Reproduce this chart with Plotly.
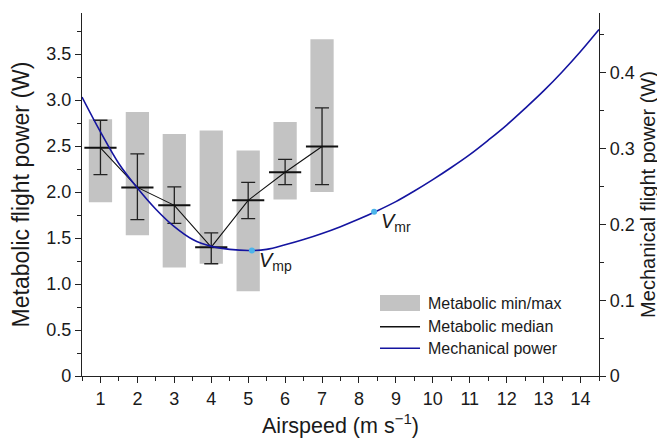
import plotly.graph_objects as go

# ---- data ----
airspeed = [1, 2, 3, 4, 5, 6, 7]
met_min = [1.89, 1.53, 1.18, 1.22, 0.92, 1.92, 2.00]
met_max = [2.79, 2.87, 2.63, 2.67, 2.45, 2.76, 3.66]
met_median = [2.48, 2.05, 1.855, 1.40, 1.91, 2.215, 2.495]
err_upper = [2.78, 2.415, 2.055, 1.555, 2.105, 2.355, 2.915]
err_lower = [2.19, 1.70, 1.66, 1.22, 1.71, 2.08, 2.08]

mech_speed = [0.5, 1.0, 1.5, 2.0, 2.5, 3.0, 3.5, 4.0, 4.5, 5.0, 5.5, 6.0, 6.5,
              7.0, 7.5, 8.0, 8.5, 9.0, 9.5, 10.0, 10.5, 11.0, 11.5, 12.0,
              12.5, 13.0, 13.5, 14.0, 14.5]
mech_power = [0.368, 0.322, 0.280, 0.248, 0.220, 0.197, 0.180, 0.171, 0.167,
              0.1655, 0.167, 0.173, 0.180, 0.188, 0.197, 0.207, 0.218, 0.230,
              0.244, 0.259, 0.275, 0.292, 0.311, 0.331, 0.353, 0.376, 0.401,
              0.428, 0.457]

v_points_x = [5.1, 8.41]
v_points_y = [0.1655, 0.2165]
v_labels = ["<i>V</i><sub>mp</sub>", "<i>V</i><sub>mr</sub>"]

x_ticks = list(range(1, 15))
y_left_ticks = [0, 0.5, 1.0, 1.5, 2.0, 2.5, 3.0, 3.5]
y_left_text = ["0", "0.5", "1.0", "1.5", "2.0", "2.5", "3.0", "3.5"]
y_right_ticks = [0, 0.1, 0.2, 0.3, 0.4]
y_right_text = ["0", "0.1", "0.2", "0.3", "0.4"]

legend_labels = ["Metabolic min/max", "Metabolic median", "Mechanical power"]

FONT = "Liberation Sans, Arial, sans-serif"
TXT = "#1a1a1a"
GRAY = "#c3c3c3"
BLUE = "#1414a0"
DOT = "#4cb4ea"

fig = go.Figure()

fig.add_trace(go.Bar(
    x=airspeed,
    y=[hi - lo for hi, lo in zip(met_max, met_min)],
    base=met_min,
    width=0.63,
    marker=dict(color=GRAY, line=dict(width=0)),
    showlegend=False, yaxis="y",
))

fig.add_trace(go.Scatter(
    x=airspeed, y=met_median,
    mode="lines+markers",
    line=dict(color="#111111", width=1.1),
    marker=dict(symbol="line-ew", size=23, line=dict(color="#111111", width=2)),
    error_y=dict(type="data", symmetric=False,
                 array=[u - m for u, m in zip(err_upper, met_median)],
                 arrayminus=[m - l for m, l in zip(met_median, err_lower)],
                 color="#222222", thickness=1.3, width=7),
    showlegend=False, yaxis="y",
))

fig.add_trace(go.Scatter(
    x=mech_speed, y=mech_power,
    mode="lines", line=dict(color=BLUE, width=1.6, shape="spline"),
    showlegend=False, yaxis="y2",
))

fig.add_trace(go.Scatter(
    x=v_points_x, y=v_points_y, mode="markers",
    marker=dict(color=DOT, size=6),
    showlegend=False, yaxis="y2",
))

annotations = []
for vx, vy, lab in zip(v_points_x, v_points_y, v_labels):
    annotations.append(dict(
        x=vx, y=vy, xref="x", yref="y2", text=lab, showarrow=False,
        xanchor="left", yanchor="top", xshift=5, yshift=4,
        font=dict(family=FONT, size=20, color=TXT),
    ))

# manual legend (paper coordinates of the plot area)
shapes = [
    dict(type="rect", xref="paper", yref="paper", x0=0.5764, x1=0.6538,
         y0=0.179, y1=0.2231, fillcolor=GRAY, line=dict(width=0)),
    dict(type="line", xref="paper", yref="paper", x0=0.5764, x1=0.6538,
         y0=0.1358, y1=0.1358, line=dict(color="#111111", width=1.6)),
    dict(type="line", xref="paper", yref="paper", x0=0.5764, x1=0.6538,
         y0=0.0763, y1=0.0763, line=dict(color=BLUE, width=1.6)),
]
for lab, ly in zip(legend_labels, [0.2011, 0.1358, 0.0763]):
    annotations.append(dict(
        x=0.6655, y=ly, xref="paper", yref="paper", text=lab, showarrow=False,
        xanchor="left", yanchor="middle",
        font=dict(family=FONT, size=16, color=TXT),
    ))

axis_common = dict(
    showgrid=False, zeroline=False, showline=True, linecolor="#222222",
    linewidth=1.3, ticks="outside", ticklen=6, tickwidth=1.3,
    tickcolor="#222222", tickfont=dict(family=FONT, size=18, color=TXT),
    automargin=False,
)

# page body adds an 8px offset, so the figure is sized to fit inside the window
fig.update_layout(
    width=657, height=435,
    margin=dict(l=74, r=66, t=5, b=67),
    paper_bgcolor="white", plot_bgcolor="white",
    barmode="overlay",
    showlegend=False,
    xaxis=dict(
        range=[0.5, 14.5], tickmode="array", tickvals=x_ticks,
        title=dict(text="Airspeed (m s<sup>\u22121</sup>)",
                   font=dict(family=FONT, size=21.5, color=TXT), standoff=10),
        minor=dict(dtick=0.5, tick0=0.5, ticklen=3.5, tickwidth=1.3,
                   tickcolor="#222222", ticks="outside"),
        **axis_common,
    ),
    yaxis=dict(
        range=[0, 3.946], tickmode="array", tickvals=y_left_ticks,
        ticktext=y_left_text,
        title=dict(text="Metabolic flight power (W)",
                   font=dict(family=FONT, size=23, color=TXT), standoff=14),
        minor=dict(dtick=0.25, tick0=0, ticklen=3.5, tickwidth=1.3,
                   tickcolor="#222222", ticks="outside"),
        **axis_common,
    ),
    yaxis2=dict(
        range=[0, 0.4788], overlaying="y", side="right",
        tickmode="array", tickvals=y_right_ticks, ticktext=y_right_text,
        title=dict(text="Mechanical flight power (W)",
                   font=dict(family=FONT, size=20, color=TXT), standoff=7),
        minor=dict(dtick=0.05, tick0=0, ticklen=3.5, tickwidth=1.3,
                   tickcolor="#222222", ticks="outside"),
        **axis_common,
    ),
    shapes=shapes,
    annotations=annotations,
)

fig.write_html("out.html")
